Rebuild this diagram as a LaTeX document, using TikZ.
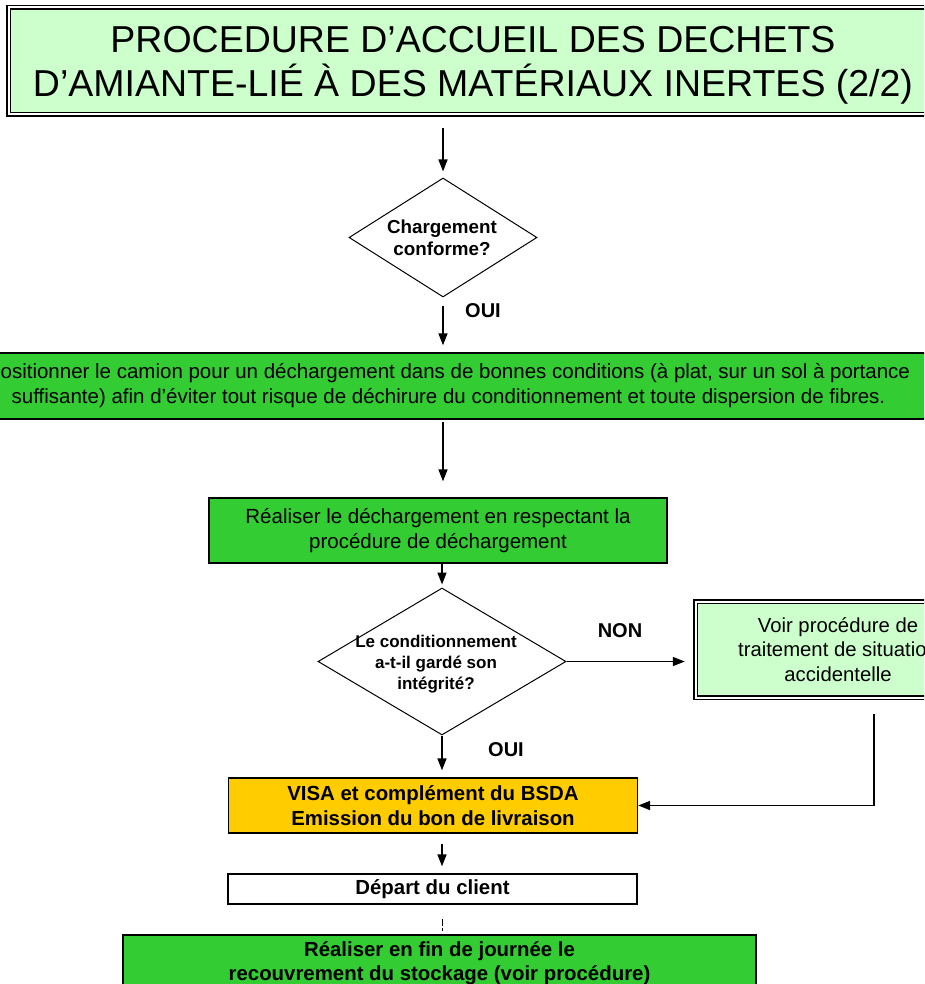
\documentclass[tikz,border=0pt]{standalone}
\usepackage{fontspec}
\setmainfont{Liberation Sans}
\usetikzlibrary{arrows.meta,shapes.geometric,positioning,calc}
\definecolor{vert}{HTML}{33CC33}
\definecolor{vertclair}{HTML}{CCFFCC}
\definecolor{jaune}{HTML}{FFCC00}
\tikzset{
  etape/.style={draw=black, line width=1.3pt, fill=vert, align=center, inner sep=0pt,
    font=\fontsize{20.5}{25}\selectfont},
  etapegras/.style={etape, font=\bfseries\fontsize{20.4}{24.5}\selectfont},
  encadre/.style={draw=black, line width=1.5pt, double=white, double distance=2pt,
    fill=vertclair, align=center, inner sep=0pt, font=\fontsize{20.3}{24.5}\selectfont},
  choix/.style={diamond, draw=black, line width=1pt, fill=white, inner sep=0pt},
  choixtxt/.style={align=center, inner sep=0pt, font=\bfseries\fontsize{17}{21}\selectfont},
  fleche/.style={line width=1.6pt, -{Triangle[length=12pt,width=9pt]}},
  reponse/.style={font=\bfseries\fontsize{20}{24}\selectfont, inner sep=0pt},
}

\begin{document}
\begin{tikzpicture}[x=1pt, y=-1pt]
    \useasboundingbox (0,0) rectangle (924,984);
    \clip (0,0) rectangle (924,984);

    % Titre
    \node[encadre, minimum width=927, minimum height=107] (titre) at (472,61) {};
    \node[align=center, inner sep=0pt, font=\fontsize{37.5}{44}\selectfont] (titretxt) at (473,65)
      {PROCEDURE D’ACCUEIL DES DECHETS\\D’AMIANTE-LIÉ À DES MATÉRIAUX INERTES (2/2)};

    % Chargement conforme ?
    \coordinate (entree) at (443,128);
    \node[choix, minimum width=188, minimum height=119] (q1) at (443,237.5) {};
    \node[choixtxt, font=\bfseries\fontsize{18.8}{22}\selectfont] (q1txt) at (442,238)
      {Chargement\\conforme?};
    \draw[fleche, shorten >=6pt] (entree) -- (q1.north);

    % Positionner le camion
    \node[etape, minimum width=1000, minimum height=66] (camion) at (448.5,386)
      {Positionner le camion pour un déchargement dans de bonnes conditions (à plat, sur un sol à portance\\
       suffisante) afin d’éviter tout risque de déchirure du conditionnement et toute dispersion de fibres.};
    \draw[fleche, shorten <=8pt, shorten >=7pt] (q1.south) -- (q1.south |- camion.north);
    \node[reponse] (oui1) at (483,311) {OUI};

    % Dechargement
    \node[etape, minimum width=458, minimum height=65] (decharge) at (438,530.5)
      {Réaliser le déchargement en respectant la\\procédure de déchargement};
    \draw[fleche, shorten <=2pt, shorten >=16pt] (q1.south |- camion.south) -- (q1.south |- decharge.north);

    % Integrite du conditionnement
    \node[choix, minimum width=248, minimum height=147] (q2) at (442,661.5) {};
    \node[choixtxt] (q2txt) at (436,664)
      {Le conditionnement\\a-t-il gardé son\\intégrité?};
    \draw[fleche, shorten >=3pt] (q2.north |- decharge.south) -- (q2.north);

    % NON -> situation accidentelle
    \node[encadre, minimum width=285, minimum height=96] (voir) at (838,649.5)
      {Voir procédure de\\traitement de situation\\accidentelle};
    \draw[fleche, shorten >=10pt] (q2.east) -- (q2.east -| voir.west);
    \node[reponse] (non) at (620,631) {NON};

    % OUI -> VISA
    \node[etapegras, fill=jaune, minimum width=409, minimum height=55] (visa) at (433,805.5)
      {VISA et complément du BSDA\\Emission du bon de livraison};
    \draw[fleche, shorten >=7pt] (q2.south) -- (q2.south |- visa.north);
    \node[reponse] (oui2) at (506,750) {OUI};

    % retour vers VISA
    \coordinate (retour) at ($(voir.south)+(36,16)$);
    \draw[fleche] (retour) |- (visa.east);

    % Depart et recouvrement
    \node[etapegras, fill=white, minimum width=409, minimum height=30] (depart) at (432.5,889)
      {Départ du client};
    \draw[fleche, shorten <=10pt, shorten >=7pt] (q2.south |- visa.south) -- (q2.south |- depart.north);

    \node[etapegras, minimum width=633, minimum height=56] (stock) at (439.5,963)
      {Réaliser en fin de journée le\\recouvrement du stockage (voir procédure)};
    \draw[line width=1pt, dash pattern=on 7pt off 2pt on 3pt off 20pt, shorten <=14pt]
      (q2.south |- depart.south) -- (q2.south |- stock.north);
\end{tikzpicture}
\end{document}
